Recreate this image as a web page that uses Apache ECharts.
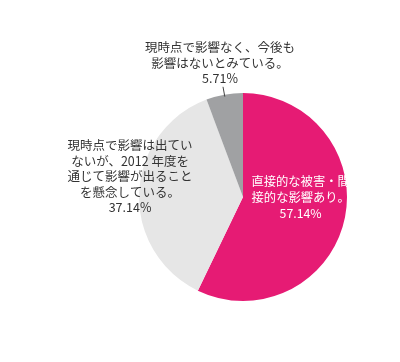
<!DOCTYPE html>
<html><head><meta charset="utf-8">
<script src="https://cdn.jsdelivr.net/npm/echarts@6/dist/echarts.min.js"></script>
<style>html,body{margin:0;padding:0;background:#fff}#c{width:400px;height:362px}</style>
</head><body><div id="c"></div>
<script>
const categories = ['直接的な被害・間\n接的な影響あり。', '現時点で影響は出てい\nないが、2012 年度を\n通じて影響が出ること\nを懸念している。', '現時点で影響なく、今後も\n影響はないとみている。'];
const values = [57.14, 37.14, 5.71];
const colors = ['#E61B74', '#E6E6E6', '#A0A1A3'];

const font = '"Noto Sans CJK JP", "Noto Sans", sans-serif';
const CX = 243, CY = 197, R = 104;
const total = values.reduce((a, b) => a + b, 0);
const before = values[0] + values[1];
const midDeg = 90 - 360 * (before + values[2] / 2) / total;
const midRad = midDeg * Math.PI / 180;
const p1 = [CX + (R - 2) * Math.cos(midRad), CY - (R - 2) * Math.sin(midRad)];
const p2 = [CX + (R + 8) * Math.cos(midRad), CY - (R + 8) * Math.sin(midRad)];

const chart = echarts.init(document.getElementById('c'), null, {renderer: 'canvas'});
chart.setOption({
  animation: false,
  series: [{
    type: 'pie',
    center: [CX, CY],
    radius: [0, R],
    startAngle: 90,
    clockwise: true,
    avoidLabelOverlap: false,
    data: categories.map((n, i) => ({
      name: n, value: values[i],
      itemStyle: {color: colors[i]},
      label: i === 0 ? {position: 'inside', color: '#fff', fontSize: 12.3, lineHeight: 16}
           : i === 1 ? {position: 'inside', color: '#333', fontSize: 12.5, lineHeight: 15.5}
           : {position: 'outside', color: '#333', fontSize: 12.5, lineHeight: 15.5},
      labelLine: {show: false}
    })),
    label: {formatter: '{b}\n{c}%', fontFamily: font, align: 'center'},
    labelLayout: function (p) {
      if (p.dataIndex === 0) return {dx: 2, dy: -6};
      if (p.dataIndex === 1) return {dx: -29, dy: -9};
      return {x: 220, y: 86, align: 'center', verticalAlign: 'bottom'};
    }
  }]
});
chart.setOption({
  graphic: {elements: [{type: 'polyline', z: 100, zlevel: 0, silent: true,
             shape: {points: [p1, p2]},
             style: {stroke: '#444', lineWidth: 1, fill: null}}]}
});
</script></body></html>
